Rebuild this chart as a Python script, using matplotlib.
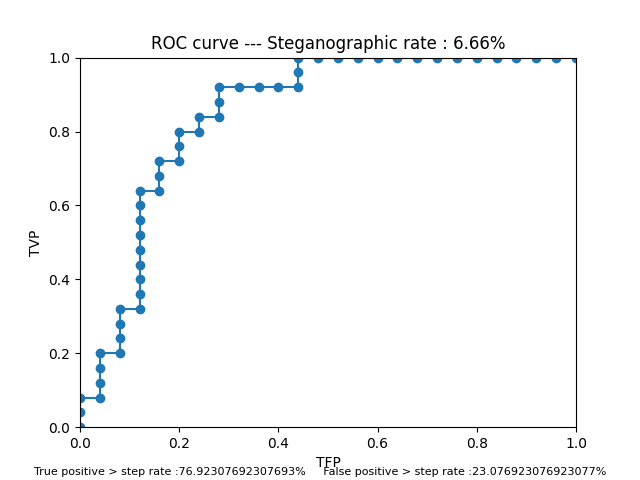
import matplotlib
matplotlib.use('Agg')
import matplotlib.pyplot as plt
import numpy as np

fpr = [0, 0, 0, 0.04, 0.04, 0.04, 0.04, 0.08, 0.08, 0.08, 0.08,
       0.12, 0.12, 0.12, 0.12, 0.12, 0.12, 0.12, 0.12, 0.12, 0.12,
       0.16, 0.16, 0.16, 0.2, 0.2, 0.2, 0.24, 0.24, 0.28, 0.28, 0.28,
       0.32, 0.36, 0.4, 0.44, 0.44, 0.44,
       0.48, 0.52, 0.56, 0.6, 0.64, 0.68, 0.72, 0.76, 0.8, 0.84, 0.88,
       0.92, 0.96, 1.0]
tpr = [0, 0.04, 0.08, 0.08, 0.12, 0.16, 0.2, 0.2, 0.24, 0.28, 0.32,
       0.32, 0.36, 0.4, 0.44, 0.48, 0.52, 0.56, 0.6, 0.64, 0.64,
       0.64, 0.68, 0.72, 0.72, 0.76, 0.8, 0.8, 0.84, 0.84, 0.88, 0.92,
       0.92, 0.92, 0.92, 0.92, 0.96, 1.0,
       1, 1, 1, 1, 1, 1, 1, 1, 1, 1, 1, 1, 1, 1]
# remove duplicate point used for readability
pts = list(dict.fromkeys(zip(fpr, tpr)))
x = [p[0] for p in pts]
y = [p[1] for p in pts]

fig = plt.figure(figsize=(6.4, 4.8), dpi=100)
plt.plot(x, y, 'o-', color='C0')
plt.xlim(0, 1)
plt.ylim(0, 1)
plt.xlabel('TFP')
plt.ylabel('TVP')
plt.title('ROC curve --- Steganographic rate : 6.66%')
fig.text(0.5, 0.01, 'True positive > step rate :76.92307692307693%     '
         'False positive > step rate :23.076923076923077%',
         ha='center', fontsize=8)
plt.savefig('out.png')
